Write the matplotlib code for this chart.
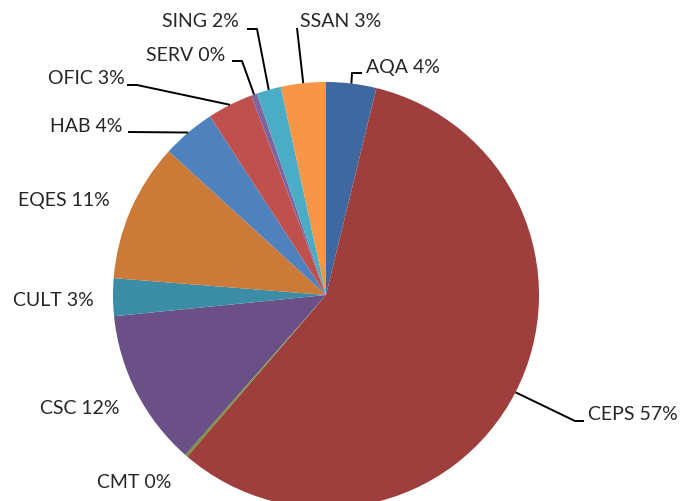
import numpy as np
import matplotlib
matplotlib.use("Agg")
import matplotlib.pyplot as plt

# ---- data (clockwise from 12 o'clock) ----
categories = ["AQA", "CEPS", "CMT", "CSC", "CULT", "EQES", "HAB", "OFIC", "SERV", "SING", "SSAN"]
values = [3.8, 57.4, 0.2, 11.9, 2.85, 10.5, 4.05, 3.45, 0.45, 1.85, 3.4]
pct_labels = ["4%", "57%", "0%", "12%", "3%", "11%", "4%", "3%", "0%", "2%", "3%"]
colors = ["#3F67A0", "#9E3F3D", "#77933C", "#6A5087", "#3A8DA4", "#CB7A37",
          "#4F81BD", "#C0504D", "#7F64A0", "#4BACC6", "#F79646"]

W, H = 681, 501
# layout in pixels from top-left
center_px = (326, 295)
radius_px = 213
text_pos = {  # left x, center y
    "AQA": (366, 67), "CEPS": (588, 414), "CMT": (97, 482), "CSC": (40, 408),
    "CULT": (13, 300), "EQES": (18, 200), "HAB": (50, 126), "OFIC": (48, 78),
    "SERV": (146, 55), "SING": (162, 21), "SSAN": (300, 21),
}
# leader: list of (x,y) pixel points from text side to elbow (anchor appended)
leaders = {
    "AQA": [(362, 73), (352, 73)],
    "CEPS": [(584, 421), (575, 421)],
    "HAB": [(128, 132)],
    "OFIC": [(127, 85), (137, 85)],
    "SERV": [(232, 61), (242, 61)],
    "SING": [(247, 29), (257, 29)],
    "SSAN": [(297, 28)],
}

fig = plt.figure(figsize=(W / 100, H / 100), dpi=100)
ax = fig.add_axes([0, 0, 1, 1])

cx, cy = center_px[0], H - center_px[1]
wedges, _ = ax.pie(values, colors=colors, startangle=90, counterclock=False,
                   center=(cx, cy), radius=radius_px, frame=True,
                   wedgeprops=dict(linewidth=0))
ax.set_xlim(0, W)
ax.set_ylim(0, H)
ax.set_aspect("equal")
ax.axis("off")

font = ["Lato", "DejaVu Sans"]
for name, pct, w in zip(categories, pct_labels, wedges):
    tx, ty = text_pos[name]
    ax.text(tx, H - ty, f"{name} {pct}", ha="left", va="center",
            fontsize=14, family=font, color="#262626")
    if name in leaders:
        ang = np.deg2rad((w.theta1 + w.theta2) / 2)
        ax_x = cx + radius_px * np.cos(ang)
        ax_y = cy + radius_px * np.sin(ang)
        pts = [(x, H - y) for x, y in leaders[name]] + [(ax_x, ax_y)]
        xs, ys = zip(*pts)
        ax.plot(xs, ys, color="black", lw=1.4, solid_capstyle="butt")

fig.savefig("out.png", dpi=100)
